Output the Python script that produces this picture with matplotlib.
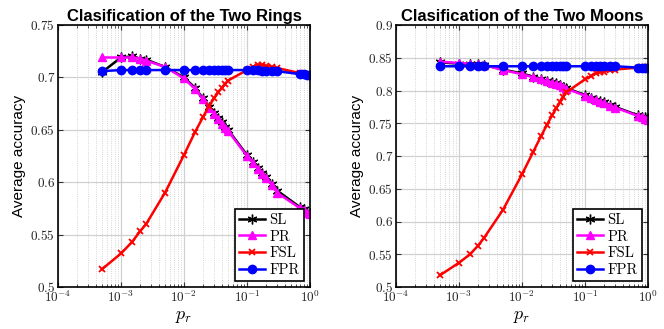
import numpy as np
import matplotlib
matplotlib.use('Agg')
from matplotlib import pyplot as plt
from matplotlib.ticker import LogLocator, NullFormatter

plt.rcParams['mathtext.fontset'] = 'cm'

# sampling ratios p_r
pr = [0.0005, 0.001, 0.0015, 0.002, 0.0025, 0.005, 0.01, 0.015, 0.02, 0.025,
      0.03, 0.035, 0.04, 0.045, 0.05, 0.1, 0.125, 0.15, 0.175, 0.2, 0.25, 0.3,
      0.7, 0.8, 0.9, 1.0]

## Two Rings
rings_sl = [0.705, 0.719, 0.720, 0.718, 0.717, 0.710, 0.700, 0.690, 0.680, 0.672,
            0.666, 0.661, 0.657, 0.653, 0.650, 0.626, 0.619, 0.614, 0.609, 0.605,
            0.598, 0.592, 0.576, 0.574, 0.572, 0.571]
rings_pr = [0.719, 0.719, 0.719, 0.718, 0.716, 0.710, 0.699, 0.689, 0.679, 0.671,
            0.665, 0.660, 0.656, 0.652, 0.649, 0.625, 0.618, 0.613, 0.608, 0.604,
            0.597, 0.590, 0.575, 0.573, 0.571, 0.570]
rings_fsl = [0.517, 0.532, 0.543, 0.553, 0.560, 0.590, 0.626, 0.648, 0.662, 0.673,
             0.680, 0.686, 0.690, 0.694, 0.697, 0.707, 0.710, 0.712, 0.712, 0.711,
             0.710, 0.709, 0.704, 0.703, 0.702, 0.702]
rings_fpr = [0.706, 0.707, 0.707, 0.707, 0.707, 0.707, 0.707, 0.707, 0.707, 0.707,
             0.707, 0.707, 0.707, 0.707, 0.707, 0.707, 0.707, 0.707, 0.706, 0.706,
             0.706, 0.706, 0.703, 0.703, 0.702, 0.702]

## Two Moons
moons_sl = [0.843, 0.841, 0.840, 0.840, 0.839, 0.832, 0.826, 0.821, 0.818, 0.815,
            0.813, 0.811, 0.809, 0.806, 0.804, 0.793, 0.789, 0.786, 0.784, 0.782,
            0.778, 0.775, 0.762, 0.760, 0.759, 0.758]
moons_pr = [0.844, 0.842, 0.841, 0.840, 0.839, 0.831, 0.825, 0.820, 0.817, 0.814,
            0.812, 0.810, 0.808, 0.805, 0.803, 0.792, 0.788, 0.785, 0.783, 0.781,
            0.777, 0.774, 0.761, 0.759, 0.757, 0.755]
moons_fsl = [0.518, 0.537, 0.550, 0.563, 0.575, 0.618, 0.672, 0.706, 0.730, 0.748,
             0.762, 0.773, 0.782, 0.790, 0.797, 0.817, 0.822, 0.826, 0.828, 0.829,
             0.831, 0.832, 0.835, 0.836, 0.836, 0.836]
moons_fpr = [0.837, 0.837, 0.837, 0.837, 0.837, 0.837, 0.837, 0.837, 0.837, 0.837,
             0.837, 0.837, 0.837, 0.837, 0.837, 0.837, 0.837, 0.837, 0.837, 0.837,
             0.837, 0.837, 0.835, 0.834, 0.834, 0.834]

titles = ['Clasification of the Two Rings', 'Clasification of the Two Moons']
ylims = [(0.5, 0.75), (0.5, 0.9)]
yticks = [[0.5, 0.55, 0.6, 0.65, 0.7, 0.75],
          [0.5, 0.55, 0.6, 0.65, 0.7, 0.75, 0.8, 0.85, 0.9]]
data = [(rings_sl, rings_pr, rings_fsl, rings_fpr),
        (moons_sl, moons_pr, moons_fsl, moons_fpr)]

fig = plt.figure(figsize=(6.64, 3.29), dpi=100)
lefts = [58 / 664, 396 / 664]

asterisk = (6, 2, 0)
for i in range(2):
    ax = fig.add_axes([lefts[i], 42 / 329, 252 / 664, 262 / 329])
    sl, prr, fsl, fpr = data[i]
    ax.plot(pr, sl, color='black', marker=asterisk, ms=7, lw=1.8, label='SL')
    ax.plot(pr, prr, color='magenta', marker='^', ms=5.5, lw=1.8, label='PR')
    ax.plot(pr, fsl, color='red', marker='x', ms=5, mew=1.3, lw=1.8, label='FSL')
    ax.plot(pr, fpr, color='blue', marker='o', ms=6, lw=1.8, label='FPR')
    ax.set_xscale('log')
    ax.set_xlim(1e-4, 1)
    ax.set_ylim(*ylims[i])
    ax.set_xticks([1e-4, 1e-3, 1e-2, 1e-1, 1],
                  ['$10^{-4}$', '$10^{-3}$', '$10^{-2}$', '$10^{-1}$', '$10^{0}$'])
    ax.xaxis.set_minor_locator(LogLocator(base=10, subs=np.arange(2, 10), numticks=20))
    ax.xaxis.set_minor_formatter(NullFormatter())
    ax.set_yticks(yticks[i], ['$%g$' % v for v in yticks[i]])
    ax.tick_params(axis='both', which='both', direction='in', top=True, right=True,
                   labelsize=9.5, colors='#333333', labelcolor='#222222', pad=2)
    ax.tick_params(which='minor', length=2.5)
    ax.grid(True, which='major', color='#d0d0d0', lw=0.9)
    ax.grid(True, which='minor', axis='x', color='#c8c8c8', lw=0.6, ls=':')
    ax.set_axisbelow(True)
    for s in ax.spines.values():
        s.set_linewidth(1.2)
    ax.set_title(titles[i], fontsize=12, fontweight='bold',
                 family='Liberation Sans', pad=3)
    ax.set_ylabel('Average accuracy', fontsize=11, family='Liberation Sans', labelpad=3)
    ax.set_xlabel('$p_r$', fontsize=13, labelpad=1)
    leg = ax.legend(loc='lower right', fancybox=False, edgecolor='black',
                    framealpha=1, prop={'family': 'cmr10', 'size': 10.5},
                    handlelength=1.8, handletextpad=0.3, borderpad=0.3,
                    labelspacing=0.2, borderaxespad=0.4)
    leg.get_frame().set_linewidth(1.2)

plt.savefig('out.png', dpi=100)
